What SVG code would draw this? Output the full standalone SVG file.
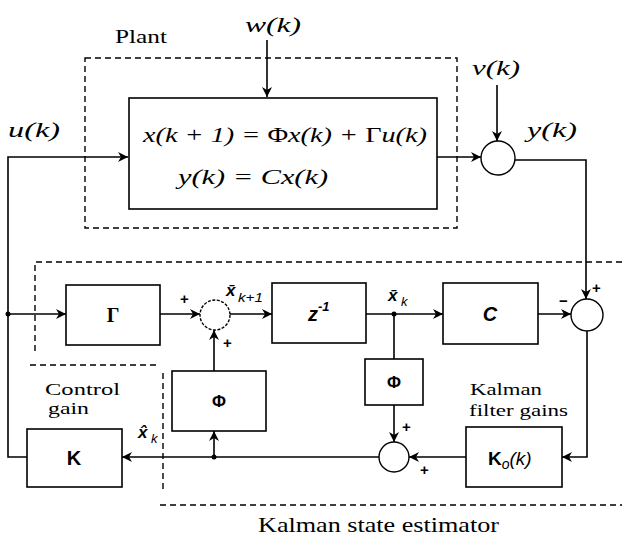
<svg xmlns="http://www.w3.org/2000/svg" width="622" height="537" viewBox="0 0 622 537">
<defs>
<style>
.ln{fill:none;stroke:#000;stroke-width:1.6}
.ds{fill:none;stroke:#000;stroke-width:1.4;stroke-dasharray:6,4}
.bx{fill:#fff;stroke:#000;stroke-width:1.6}
.sum{fill:#fff;stroke:#000;stroke-width:1.4}
.sg{font-family:"Liberation Sans",Arial,sans-serif;font-size:15px;font-weight:bold;fill:#000}
</style>
<marker id="ar" viewBox="0 0 10 10" refX="10" refY="5" markerWidth="10" markerHeight="10" markerUnits="userSpaceOnUse" orient="auto">
<path d="M0,0 L10,5 L0,10 L3,5 z" fill="#000"/>
</marker>
</defs>
<rect width="622" height="537" fill="#fff"/>

<g id="frames">
<rect class="ds" x="85" y="58" width="372" height="170"/>
<path class="ds" d="M622,262 H35 V352"/>
<path class="ds" d="M30,365 H160"/>
<path class="ds" d="M163,373 V493"/>
<path class="ds" d="M160,505 H622"/>
</g>

<g id="connectors">
<path class="ln" d="M267,40 V97" marker-end="url(#ar)"/>
<path class="ln" d="M27,457 H8 V157 H128" marker-end="url(#ar)"/>
<path class="ln" d="M8,314 H66" marker-end="url(#ar)"/>
<circle cx="8" cy="314" r="2.5"/>
<path class="ln" d="M437,157 H481" marker-end="url(#ar)"/>
<path class="ln" d="M497,85 V141" marker-end="url(#ar)"/>
<path class="ln" d="M515,160 H586 V299" marker-end="url(#ar)"/>
<path class="ln" d="M160,314 H200" marker-end="url(#ar)"/>
<path class="ln" d="M230,314 H272" marker-end="url(#ar)"/>
<path class="ln" d="M214,371 V330" marker-end="url(#ar)"/>
<path class="ln" d="M366,314 H443" marker-end="url(#ar)"/>
<circle cx="394" cy="314" r="2.5"/>
<path class="ln" d="M394,314 V359"/>
<path class="ln" d="M394,405 V442" marker-end="url(#ar)"/>
<path class="ln" d="M538,314 H571" marker-end="url(#ar)"/>
<path class="ln" d="M587,331 V457 H562" marker-end="url(#ar)"/>
<path class="ln" d="M466,457 H409" marker-end="url(#ar)"/>
<path class="ln" d="M379,457 H122" marker-end="url(#ar)"/>
<circle cx="214" cy="457" r="2.5"/>
<path class="ln" d="M214,457 V431" marker-end="url(#ar)"/>
</g>

<g id="serif-labels" font-family="'Liberation Serif', 'DejaVu Serif', serif" fill="#000">
<text x="115" y="43" font-size="19" textLength="52" lengthAdjust="spacingAndGlyphs">Plant</text>
<text x="258" y="532" font-size="22" textLength="241" lengthAdjust="spacingAndGlyphs">Kalman state estimator</text>
<text x="245" y="32" font-size="21" font-style="italic" textLength="56" lengthAdjust="spacingAndGlyphs">w(k)</text>
<text x="472" y="75" font-size="21" font-style="italic" textLength="48" lengthAdjust="spacingAndGlyphs">ν(k)</text>
<text x="8" y="137" font-size="21" font-style="italic" textLength="52" lengthAdjust="spacingAndGlyphs">u(k)</text>
<text x="527" y="137" font-size="21" font-style="italic" textLength="50" lengthAdjust="spacingAndGlyphs">y(k)</text>
<text x="45" y="395" font-size="17" textLength="75" lengthAdjust="spacingAndGlyphs">Control</text>
<text x="48" y="414" font-size="17" textLength="41" lengthAdjust="spacingAndGlyphs">gain</text>
<text x="470" y="395" font-size="17" textLength="72" lengthAdjust="spacingAndGlyphs">Kalman</text>
<text x="469" y="416" font-size="17" textLength="99" lengthAdjust="spacingAndGlyphs">filter gains</text>
</g>

<g id="sans-labels" font-family="'Liberation Sans', Arial, sans-serif" fill="#000">
<text x="226" y="296" font-size="17" font-weight="bold" font-style="italic">x̄</text>
<text x="238" y="302" font-size="13" font-style="italic" textLength="25" lengthAdjust="spacingAndGlyphs">k+1</text>
<text x="388" y="301" font-size="17" font-weight="bold" font-style="italic">x̄</text>
<text x="401" y="306" font-size="13" font-style="italic">k</text>
<text x="138" y="438" font-size="17" font-weight="bold" font-style="italic">x̂</text>
<text x="151" y="443" font-size="13" font-style="italic">k</text>
<text class="sg" x="180" y="304">+</text>
<text class="sg" x="223" y="348">+</text>
<text class="sg" x="592" y="293">+</text>
<text class="sg" x="559" y="306">−</text>
<text class="sg" x="402" y="432">+</text>
<text class="sg" x="420" y="475">+</text>
</g>

<g id="plant">
<rect class="bx" x="129" y="98" width="308" height="111"/>
<text font-family="'Liberation Serif', 'DejaVu Serif', serif" font-style="italic" fill="#000" x="143" y="142" font-size="22" textLength="284" lengthAdjust="spacingAndGlyphs">x(k + 1) = <tspan font-style="normal">Φ</tspan>x(k) + <tspan font-style="normal">Γ</tspan>u(k)</text>
<text font-family="'Liberation Serif', 'DejaVu Serif', serif" font-style="italic" fill="#000" x="178" y="184" font-size="22" textLength="150" lengthAdjust="spacingAndGlyphs">y(k) = Cx(k)</text>
</g>

<g id="sum-output"><circle class="sum" cx="498" cy="158" r="17"/></g>
<g id="sum-predict"><circle class="sum" cx="215" cy="315" r="15" stroke-dasharray="3,1.5"/></g>
<g id="sum-innovation"><circle class="sum" cx="587" cy="315" r="16"/></g>
<g id="sum-update"><circle class="sum" cx="394" cy="457" r="15"/></g>

<g id="gamma">
<rect class="bx" x="66" y="285" width="94" height="60"/>
<text font-family="'Liberation Serif', 'DejaVu Serif', serif" font-weight="bold" fill="#000" x="113" y="322" font-size="20" text-anchor="middle">Γ</text>
</g>
<g id="zinv" font-family="'Liberation Sans', Arial, sans-serif" fill="#000">
<rect class="bx" x="272" y="283" width="94" height="60"/>
<text x="308" y="321" font-size="20" font-weight="bold" font-style="italic">z<tspan font-size="13" dy="-10">-1</tspan></text>
</g>
<g id="cbox" font-family="'Liberation Sans', Arial, sans-serif" fill="#000">
<rect class="bx" x="443" y="283" width="95" height="61"/>
<text x="490" y="321" font-size="20" font-weight="bold" font-style="italic" text-anchor="middle">C</text>
</g>
<g id="phi1" font-family="'Liberation Sans', Arial, sans-serif" fill="#000">
<rect class="bx" x="172" y="371" width="94" height="60"/>
<text x="219" y="407" font-size="17" font-weight="bold" text-anchor="middle">Φ</text>
</g>
<g id="phi2" font-family="'Liberation Sans', Arial, sans-serif" fill="#000">
<rect class="bx" x="365" y="359" width="58" height="46"/>
<text x="394" y="388" font-size="17" font-weight="bold" text-anchor="middle">Φ</text>
</g>
<g id="kbox" font-family="'Liberation Sans', Arial, sans-serif" fill="#000">
<rect class="bx" x="27" y="429" width="95" height="58"/>
<text x="74" y="465" font-size="20" font-weight="bold" text-anchor="middle">K</text>
</g>
<g id="kobox" font-family="'Liberation Sans', Arial, sans-serif" fill="#000">
<rect class="bx" x="466" y="427" width="96" height="60"/>
<text x="488" y="465" font-size="19"><tspan font-weight="bold">K</tspan><tspan font-style="italic" font-size="14" dy="4">o</tspan><tspan font-style="italic" dy="-4">(k)</tspan></text>
</g>
</svg>
